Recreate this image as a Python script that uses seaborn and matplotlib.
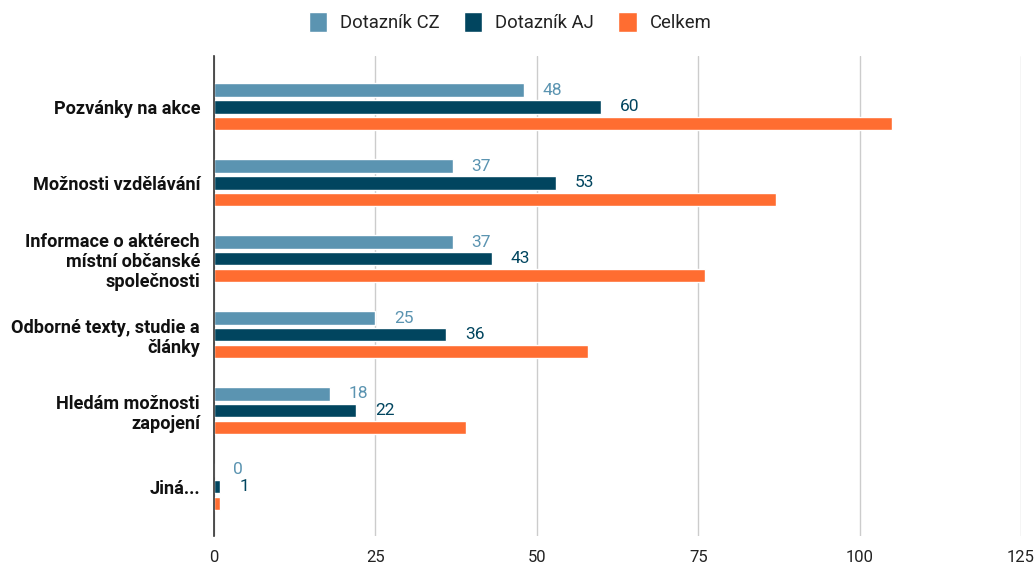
import matplotlib
matplotlib.use("Agg")
import matplotlib.pyplot as plt
import seaborn as sns
import pandas as pd

categories = [
    "Pozvánky na akce",
    "Možnosti vzdělávání",
    "Informace o aktérech\nmístní občanské\nspolečnosti",
    "Odborné texty, studie a\nčlánky",
    "Hledám možnosti\nzapojení",
    "Jiná...",
]
series_names = ["Dotazník CZ", "Dotazník AJ", "Celkem"]
cz_values = [48, 37, 37, 25, 18, 0]
aj_values = [60, 53, 43, 36, 22, 1]
total_values = [105, 87, 76, 58, 39, 1]
x_ticks = [0, 25, 50, 75, 100, 125]
colors = ["#5b94b1", "#01455f", "#ff6d31"]

rows = []
for name, vals in zip(series_names, [cz_values, aj_values, total_values]):
    for c, v in zip(categories, vals):
        rows.append({"category": c, "value": v, "series": name})
df = pd.DataFrame(rows)

sns.set_theme(style="white")
plt.rcParams["font.family"] = ["Roboto", "DejaVu Sans"]

fig = plt.figure(figsize=(10.36, 5.65), dpi=100)
ax = fig.add_axes([214 / 1036, 1 - 536 / 565, (1021 - 214) / 1036, (536 - 56) / 565])

sns.barplot(data=df, y="category", x="value", hue="series", orient="h",
            palette=colors, hue_order=series_names, order=categories,
            width=0.66, gap=0.2, saturation=1, ax=ax, legend=True,
            errorbar=None)

handles, labels = ax.get_legend_handles_labels()
ax.get_legend().remove()

for cont, col in zip(ax.containers[:2], colors[:2]):
    ax.bar_label(cont, fmt="{:.0f}", padding=13.5, color=col, fontsize=12.5)

ax.set_xlim(0, 125)
ax.set_ylim(5.65, -0.67)
ax.set_xticks(x_ticks)
ax.set_xticklabels([str(t) for t in x_ticks])
ax.xaxis.grid(True, color="#cccccc", linewidth=1)
ax.set_axisbelow(True)
for s in ["top", "right", "bottom"]:
    ax.spines[s].set_visible(False)
ax.spines["left"].set_color("#333333")
ax.spines["left"].set_linewidth(1.2)
ax.spines["left"].set_zorder(5)
ax.tick_params(axis="x", length=0, pad=10, labelsize=12, labelcolor="#222222")
ax.tick_params(axis="y", length=0, pad=10, labelsize=13.1, labelcolor="#111111")
for t in ax.get_yticklabels():
    t.set_fontweight("bold")
    t.set_ha("right")
    t.set_multialignment("right")
    t.set_linespacing(1.17)
ax.set_xlabel("")
ax.set_ylabel("")

fig.legend(handles, labels, loc="center", bbox_to_anchor=(510 / 1036, 1 - 22 / 565),
           ncol=3, frameon=False, fontsize=13.3, handlelength=1.0, handleheight=1.3,
           handletextpad=0.7, columnspacing=1.3, labelcolor="#222222")

fig.savefig("out.png", dpi=100)
